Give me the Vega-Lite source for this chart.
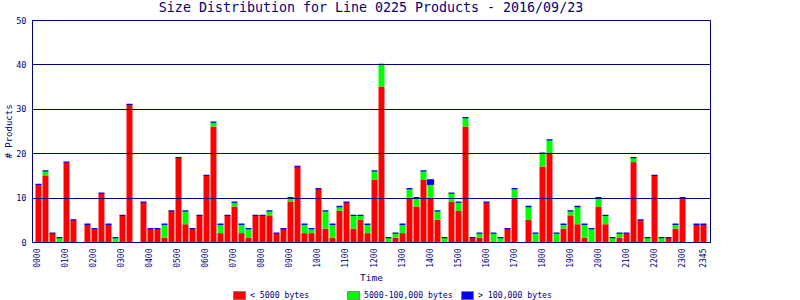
{
  "$schema": "https://vega.github.io/schema/vega-lite/v6.json",
  "width": 678,
  "height": 222,
  "autosize": "none",
  "padding": {"left": 32, "top": 20, "right": 90, "bottom": 58},
  "background": "white",
  "title": {
    "text": "Size Distribution for Line 0225 Products - 2016/09/23",
    "font": "DejaVu Sans Mono",
    "fontSize": 13.3,
    "fontWeight": "normal",
    "color": "#000080",
    "anchor": "middle",
    "frame": "group",
    "offset": 1.5
  },
  "data": {
    "values": [
      {"t": "0000", "small": 13, "medium": 0, "large": 0},
      {"t": "0015", "small": 15, "medium": 1, "large": 0},
      {"t": "0030", "small": 2, "medium": 0, "large": 0},
      {"t": "0045", "small": 0, "medium": 1, "large": 0},
      {"t": "0100", "small": 18, "medium": 0, "large": 0},
      {"t": "0115", "small": 5, "medium": 0, "large": 0},
      {"t": "0130", "small": 0, "medium": 0, "large": null},
      {"t": "0145", "small": 4, "medium": 0, "large": 0},
      {"t": "0200", "small": 3, "medium": 0, "large": 0},
      {"t": "0215", "small": 11, "medium": 0, "large": 0},
      {"t": "0230", "small": 4, "medium": 0, "large": 0},
      {"t": "0245", "small": 0, "medium": 1, "large": 0},
      {"t": "0300", "small": 6, "medium": 0, "large": 0},
      {"t": "0315", "small": 31, "medium": 0, "large": 0},
      {"t": "0330", "small": 0, "medium": 0, "large": null},
      {"t": "0345", "small": 9, "medium": 0, "large": 0},
      {"t": "0400", "small": 3, "medium": 0, "large": 0},
      {"t": "0415", "small": 3, "medium": 0, "large": 0},
      {"t": "0430", "small": 1, "medium": 3, "large": 0},
      {"t": "0445", "small": 7, "medium": 0, "large": 0},
      {"t": "0500", "small": 19, "medium": 0, "large": 0},
      {"t": "0515", "small": 4, "medium": 3, "large": 0},
      {"t": "0530", "small": 3, "medium": 0, "large": 0},
      {"t": "0545", "small": 6, "medium": 0, "large": 0},
      {"t": "0600", "small": 15, "medium": 0, "large": 0},
      {"t": "0615", "small": 26, "medium": 1, "large": 0},
      {"t": "0630", "small": 2, "medium": 2, "large": 0},
      {"t": "0645", "small": 6, "medium": 0, "large": 0},
      {"t": "0700", "small": 8, "medium": 1, "large": 0},
      {"t": "0715", "small": 2, "medium": 2, "large": 0},
      {"t": "0730", "small": 1, "medium": 2, "large": 0},
      {"t": "0745", "small": 6, "medium": 0, "large": 0},
      {"t": "0800", "small": 6, "medium": 0, "large": 0},
      {"t": "0815", "small": 6, "medium": 1, "large": 0},
      {"t": "0830", "small": 2, "medium": 0, "large": 0},
      {"t": "0845", "small": 3, "medium": 0, "large": 0},
      {"t": "0900", "small": 9, "medium": 1, "large": 0},
      {"t": "0915", "small": 17, "medium": 0, "large": 0},
      {"t": "0930", "small": 2, "medium": 2, "large": 0},
      {"t": "0945", "small": 2, "medium": 1, "large": 0},
      {"t": "1000", "small": 12, "medium": 0, "large": 0},
      {"t": "1015", "small": 3, "medium": 4, "large": 0},
      {"t": "1030", "small": 1, "medium": 3, "large": 0},
      {"t": "1045", "small": 7, "medium": 1, "large": 0},
      {"t": "1100", "small": 9, "medium": 0, "large": 0},
      {"t": "1115", "small": 3, "medium": 3, "large": 0},
      {"t": "1130", "small": 5, "medium": 1, "large": 0},
      {"t": "1145", "small": 2, "medium": 2, "large": 0},
      {"t": "1200", "small": 14, "medium": 2, "large": 0},
      {"t": "1215", "small": 35, "medium": 5, "large": 0},
      {"t": "1230", "small": 0, "medium": 1, "large": 0},
      {"t": "1245", "small": 1, "medium": 1, "large": 0},
      {"t": "1300", "small": 2, "medium": 2, "large": 0},
      {"t": "1315", "small": 10, "medium": 2, "large": 0},
      {"t": "1330", "small": 8, "medium": 2, "large": 0},
      {"t": "1345", "small": 14, "medium": 2, "large": 0},
      {"t": "1400", "small": 10, "medium": 3, "large": 1},
      {"t": "1415", "small": 5, "medium": 2, "large": 0},
      {"t": "1430", "small": 0, "medium": 1, "large": 0},
      {"t": "1445", "small": 9, "medium": 2, "large": 0},
      {"t": "1500", "small": 7, "medium": 2, "large": 0},
      {"t": "1515", "small": 26, "medium": 2, "large": 0},
      {"t": "1530", "small": 1, "medium": 0, "large": 0},
      {"t": "1545", "small": 1, "medium": 1, "large": 0},
      {"t": "1600", "small": 9, "medium": 0, "large": 0},
      {"t": "1615", "small": 0, "medium": 2, "large": 0},
      {"t": "1630", "small": 0, "medium": 1, "large": 0},
      {"t": "1645", "small": 3, "medium": 0, "large": 0},
      {"t": "1700", "small": 10, "medium": 2, "large": 0},
      {"t": "1715", "small": 0, "medium": 0, "large": null},
      {"t": "1730", "small": 5, "medium": 3, "large": 0},
      {"t": "1745", "small": 0, "medium": 2, "large": 0},
      {"t": "1800", "small": 17, "medium": 3, "large": 0},
      {"t": "1815", "small": 20, "medium": 3, "large": 0},
      {"t": "1830", "small": 0, "medium": 2, "large": 0},
      {"t": "1845", "small": 3, "medium": 1, "large": 0},
      {"t": "1900", "small": 6, "medium": 1, "large": 0},
      {"t": "1915", "small": 4, "medium": 4, "large": 0},
      {"t": "1930", "small": 1, "medium": 3, "large": 0},
      {"t": "1945", "small": 0, "medium": 3, "large": 0},
      {"t": "2000", "small": 8, "medium": 2, "large": 0},
      {"t": "2015", "small": 4, "medium": 2, "large": 0},
      {"t": "2030", "small": 0, "medium": 1, "large": 0},
      {"t": "2045", "small": 1, "medium": 1, "large": 0},
      {"t": "2100", "small": 2, "medium": 0, "large": 0},
      {"t": "2115", "small": 18, "medium": 1, "large": 0},
      {"t": "2130", "small": 5, "medium": 0, "large": 0},
      {"t": "2145", "small": 0, "medium": 1, "large": 0},
      {"t": "2200", "small": 15, "medium": 0, "large": 0},
      {"t": "2215", "small": 0, "medium": 1, "large": 0},
      {"t": "2230", "small": 1, "medium": 0, "large": 0},
      {"t": "2245", "small": 3, "medium": 1, "large": 0},
      {"t": "2300", "small": 10, "medium": 0, "large": 0},
      {"t": "2315", "small": 0, "medium": 0, "large": null},
      {"t": "2330", "small": 4, "medium": 0, "large": 0},
      {"t": "2345", "small": 4, "medium": 0, "large": 0}
    ]
  },
  "transform": [
    {"fold": ["small", "medium", "large"], "as": ["size", "n"]}
  ],
  "mark": {"type": "bar", "stroke": "#0000ff"},
  "encoding": {
    "x": {
      "field": "t",
      "type": "ordinal",
      "sort": null,
      "scale": {"paddingInner": 0.15, "paddingOuter": 0.5},
      "axis": {
        "title": "Time",
        "values": ["0000", "0100", "0200", "0300", "0400", "0500", "0600", "0700", "0800", "0900", "1000", "1100", "1200", "1300", "1400", "1500", "1600", "1700", "1800", "1900", "2000", "2100", "2200", "2300", "2345"],
        "labelAngle": -90,
        "labelFont": "DejaVu Sans Mono",
        "labelFontSize": 8,
        "labelColor": "#000080",
        "labelPadding": 6,
        "ticks": false,
        "domainColor": "#000080",
        "titleFont": "DejaVu Sans Mono",
        "titleFontSize": 9.5,
        "titleFontWeight": "normal",
        "titleColor": "#000080",
        "titlePadding": 5,
        "zindex": 1
      }
    },
    "y": {
      "field": "n",
      "type": "quantitative",
      "stack": "zero",
      "scale": {"domain": [0, 50], "nice": false},
      "axis": {
        "title": "# Products",
        "values": [0, 10, 20, 30, 40, 50],
        "grid": true,
        "gridColor": "#000080",
        "gridOpacity": 1,
        "gridWidth": 1,
        "ticks": false,
        "domainColor": "#000080",
        "labelFont": "DejaVu Sans Mono",
        "labelFontSize": 8.5,
        "labelColor": "#000080",
        "labelPadding": 6,
        "titleFont": "DejaVu Sans Mono",
        "titleFontSize": 9,
        "titleFontWeight": "normal",
        "titleColor": "#000080",
        "titlePadding": 2,
        "zindex": 1
      }
    },
    "color": {
      "field": "size",
      "type": "nominal",
      "scale": {"domain": ["small", "medium", "large"], "range": ["#ff0000", "#00ff00", "#0000ff"]},
      "legend": {
        "orient": "none",
        "legendX": 201,
        "legendY": 269,
        "direction": "horizontal",
        "columns": 3,
        "gridAlign": "all",
        "columnPadding": 6,
        "padding": 0,
        "title": null,
        "symbolType": "M-1,-0.69H1V0.69H-1Z",
        "symbolSize": 144,
        "symbolStrokeColor": "#808080",
        "symbolStrokeWidth": 1,
        "symbolOpacity": 1,
        "labelFont": "DejaVu Sans Mono",
        "labelFontSize": 8.2,
        "labelColor": "#000080",
        "labelOffset": 4,
        "labelExpr": "datum.value == 'small' ? '< 5000 bytes' : datum.value == 'medium' ? '5000-100,000 bytes' : '> 100,000 bytes'"
      }
    },
    "order": {"field": "size", "sort": "descending"},
    "strokeWidth": {
      "condition": {"test": "datum.size === 'large' && datum.n != null", "value": 1.3},
      "value": 0
    },
    "opacity": {"value": 1}
  },
  "config": {
    "font": "DejaVu Sans Mono",
    "view": {"stroke": "#000080", "strokeWidth": 1},
    "bar": {"opacity": 1}
  }
}
